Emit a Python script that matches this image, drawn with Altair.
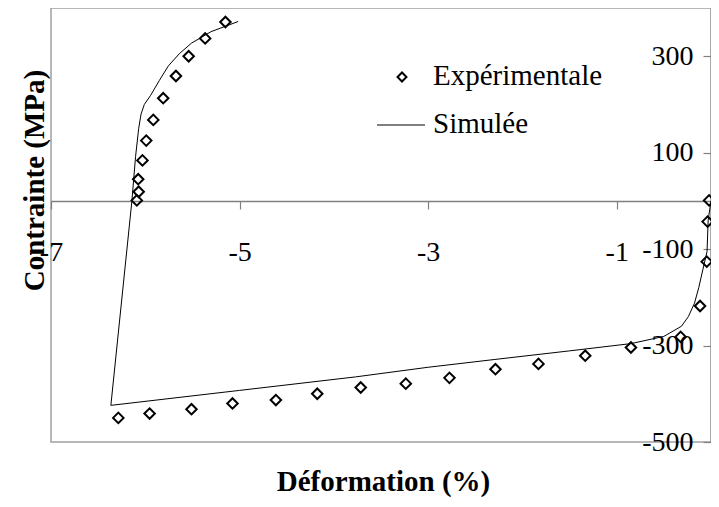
import altair as alt
import pandas as pd

# Experimental points (strain %, stress MPa)
exp_x = [-5.15, -5.365, -5.54, -5.675, -5.81, -5.915, -5.99, -6.03, -6.075, -6.07, -6.09,
         -6.286, -5.954, -5.51, -5.075, -4.615, -4.176, -3.715, -3.237, -2.774, -2.286,
         -1.83, -1.334, -0.849, -0.322, -0.116, -0.045, -0.036, -0.02]
exp_y = [371, 337, 300, 259, 213, 168, 125, 84, 45, 19, 1,
         -450, -441, -432, -420, -413, -400, -387, -379, -367, -349,
         -338, -321, -304, -282, -218, -126, -43, 1]

# Simulated curve (ordered)
sim_x = [0.0, -0.03, -0.042, -0.087, -0.13, -0.175, -0.24, -0.314, -0.5, -0.85, -1.5,
         -2.3, -3.0, -3.77, -5.0, -6.365, -6.142, -6.103, -6.07, -6.045, -6.01,
         -5.946, -5.85, -5.755, -5.64, -5.511, -5.302, -5.015]
sim_y = [0, -40, -105, -143, -180, -212, -240, -260, -281, -296, -311,
         -329, -345, -365, -393, -424, 0, 92, 150, 180, 200,
         218, 250, 280, 305, 327, 351, 372]

x_ticks = [-7, -5, -3, -1]
y_ticks = [-500, -300, -100, 100, 300]
legend_labels = ["Expérimentale", "Simulée"]

FONT = "Liberation Serif"
W, H = 660, 434

exp_df = pd.DataFrame({"x": exp_x, "y": exp_y})
sim_df = pd.DataFrame({"x": sim_x, "y": sim_y, "i": list(range(len(sim_x)))})

xscale = alt.Scale(domain=[-7, 0], nice=False, zero=False)
yscale = alt.Scale(domain=[-500, 400], nice=False, zero=False)

xaxis = alt.Axis(
    values=x_ticks, orient="bottom", offset=-241, grid=False,
    labelExpr="toString(datum.value)",
    domainColor="#808080", domainWidth=1.5, tickColor="#808080", tickSize=8, tickWidth=1.2,
    labelFont=FONT, labelFontSize=28, labelColor="black", labelPadding=29,
    labelFlush=False, labelOverlap=False,
    title="Déformation (%)", titleFont=FONT, titleFontSize=29, titleFontWeight="bold",
    titleColor="black", titleX=332, titleY=289, titleBaseline="alphabetic", titleAlign="center",
)
yaxis = alt.Axis(
    values=y_ticks, orient="left", offset=-W, grid=False,
    labelExpr="toString(datum.value)",
    domainColor="#808080", domainWidth=1.5, tickColor="#808080", tickSize=8, tickWidth=1.2,
    labelFont=FONT, labelFontSize=28, labelColor="black", labelPadding=10,
    labelFlush=False, labelOverlap=False,
    title="Contrainte (MPa)", titleFont=FONT, titleFontSize=29, titleFontWeight="bold",
    titleColor="black", titleX=-(W + 8), titleY=172, titleAngle=270,
    titleBaseline="alphabetic", titleAlign="center",
)

line = alt.Chart(sim_df).mark_line(color="black", strokeWidth=1, clip=True).encode(
    x=alt.X("x:Q", scale=xscale, axis=xaxis),
    y=alt.Y("y:Q", scale=yscale, axis=yaxis),
    order="i:Q",
)

pts = alt.Chart(exp_df).mark_point(
    shape="diamond", size=110, filled=False, color="black", strokeWidth=2, opacity=1
).encode(
    x=alt.X("x:Q", scale=xscale),
    y=alt.Y("y:Q", scale=yscale),
)

one = pd.DataFrame({"a": [0]})
leg_pt = alt.Chart(one).mark_point(
    shape="diamond", size=80, filled=False, color="black", strokeWidth=2, opacity=1
).encode(x=alt.value(351), y=alt.value(69))
leg_t1 = alt.Chart(one).mark_text(
    text=legend_labels[0], font=FONT, fontSize=29, align="left", baseline="alphabetic", color="black"
).encode(x=alt.value(382), y=alt.value(77))
leg_line = alt.Chart(one).mark_rule(color="black", strokeWidth=1).encode(
    x=alt.value(326), x2=alt.value(374), y=alt.value(117)
)
leg_t2 = alt.Chart(one).mark_text(
    text=legend_labels[1], font=FONT, fontSize=29, align="left", baseline="alphabetic", color="black"
).encode(x=alt.value(382), y=alt.value(125))

chart = alt.layer(line, pts, leg_pt, leg_t1, leg_line, leg_t2).properties(
    width=W, height=H,
    autosize=alt.AutoSizeParams(type="none"),
    padding={"left": 43, "top": 0, "right": 0, "bottom": 56},
    background="white",
).configure_view(stroke="#a0a0a0", strokeWidth=1.5)

chart.save("out.html", embed_options={"renderer": "svg", "actions": False})
